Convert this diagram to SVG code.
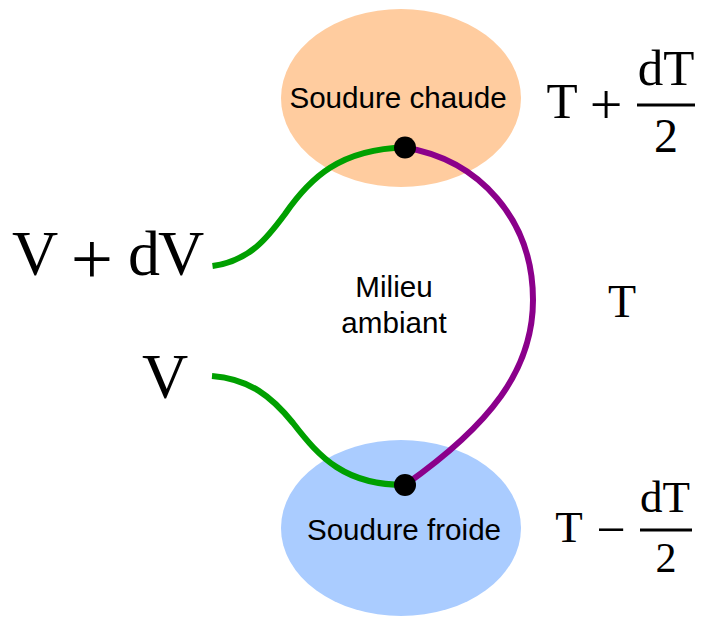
<svg xmlns="http://www.w3.org/2000/svg" width="703" height="618" viewBox="0 0 703 618">
<style>
.lbl{font-family:"Liberation Sans",Arial,sans-serif;font-size:29.6px;fill:#000;text-anchor:middle}
.m{font-family:"Liberation Serif","Times New Roman",serif;fill:#000;text-anchor:middle}
.w{fill:none;stroke-width:6}
.bar{stroke:#000;stroke-width:3}
</style>
<rect width="703" height="618" fill="#fff"/>
<g id="hot"><ellipse cx="401" cy="98" rx="120" ry="89" fill="#ffcc9f"/><text class="lbl" x="398" y="108">Soudure chaude</text></g>
<g id="cold"><ellipse cx="401" cy="528" rx="120" ry="88" fill="#aaccff"/><text class="lbl" x="404" y="540">Soudure froide</text></g>
<g id="connectors">
<path class="w" stroke="#00a000" d="M212.500 266C250 261 268 237 285 214C310 178 340 149 405 147.500"/>
<path class="w" stroke="#00a000" d="M212 376C250 379 272 397 293 423C320 458 345 485 405 485"/>
<path class="w" stroke="#8b008b" d="M405 147.500C480 160 533 220 533 300C533 370 490 425 405 485"/>
</g>
<g id="j1"><circle cx="405" cy="147.500" r="11"/></g>
<g id="j2"><circle cx="405" cy="485" r="11"/></g>
<g id="milieu"><text class="lbl" x="394" y="297">Milieu</text><text class="lbl" x="394" y="333">ambiant</text></g>
<g id="t-hot">
<text class="m" x="562" y="118" font-size="51">T</text>
<text class="m" x="606" y="124" font-size="58">+</text>
<text class="m" x="666" y="85" font-size="51">dT</text>
<line class="bar" x1="637" y1="105" x2="695" y2="105"/>
<text class="m" x="666" y="152" font-size="48">2</text>
</g>
<g id="t-mid"><text class="m" x="622" y="317" font-size="46">T</text></g>
<g id="t-cold">
<text class="m" x="569" y="542" font-size="45">T</text>
<text class="m" x="611" y="547" font-size="52">−</text>
<text class="m" x="665" y="512" font-size="45">dT</text>
<line class="bar" x1="640" y1="530" x2="692" y2="530"/>
<text class="m" x="666" y="572" font-size="42">2</text>
</g>
<g id="v-plus">
<text class="m" x="35" y="275" font-size="64">V</text>
<text class="m" x="92" y="284" font-size="75">+</text>
<text class="m" x="144" y="275" font-size="64">d</text>
<text class="m" x="181" y="275" font-size="64">V</text>
</g>
<g id="v"><text class="m" x="165" y="398" font-size="64">V</text></g>
</svg>
